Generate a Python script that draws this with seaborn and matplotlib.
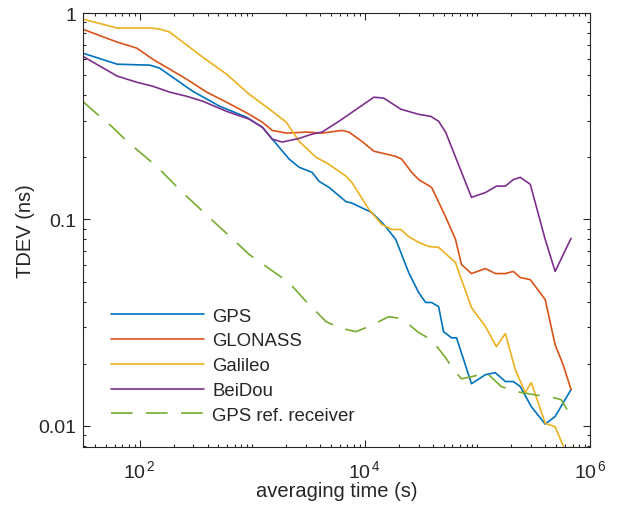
import matplotlib
matplotlib.use("Agg")
import matplotlib.pyplot as plt
import matplotlib.ticker as mticker
import seaborn as sns
import pandas as pd
import numpy as np

# averaging time (s) and TDEV (ns)
gps_t = [31, 63, 123, 150, 295, 510, 885, 1225, 1503, 2125, 2606, 3397, 3916, 4800,
         6785, 7670, 11530, 14730, 18800, 24500, 30060, 34660, 39160, 45170, 50000,
         58910, 65200, 88500, 117800, 144300, 176900, 208300, 240300, 300800,
         400000, 490000, 678500]
gps_v = [0.640, 0.565, 0.559, 0.541, 0.418, 0.354, 0.313, 0.280, 0.245, 0.196, 0.179,
         0.169, 0.153, 0.143, 0.122, 0.120, 0.108, 0.0946, 0.0800, 0.0553, 0.0442,
         0.0396, 0.0396, 0.0378, 0.0286, 0.0267, 0.0267, 0.0160, 0.0177, 0.0181,
         0.0164, 0.0164, 0.0155, 0.0124, 0.0102, 0.0111, 0.0150]

glo_t = [31, 63, 94, 130, 184, 261, 392, 589, 940, 1225, 1503, 2000, 3005, 4160, 6257,
         7213, 9400, 12020, 15660, 18800, 21240, 26060, 30060, 39160, 52120, 63880,
         72150, 88500, 117800, 144300, 176900, 208300, 240300, 294700, 400000,
         490000, 576700, 678500]
glo_v = [0.836, 0.723, 0.676, 0.598, 0.535, 0.478, 0.414, 0.370, 0.323, 0.296, 0.270,
         0.262, 0.265, 0.262, 0.270, 0.265, 0.239, 0.214, 0.207, 0.202, 0.196, 0.169,
         0.156, 0.143, 0.103, 0.0800, 0.0605, 0.0547, 0.0578, 0.0547, 0.0547, 0.0560,
         0.0523, 0.0511, 0.0409, 0.0247, 0.0198, 0.0150]

gal_t = [31, 63, 123, 150, 184, 362, 589, 940, 1503, 2000, 2606, 3683, 4800, 6785,
         7670, 10840, 14140, 17340, 20840, 24500, 30060, 36840, 45170, 63880, 72150,
         88500, 117800, 147300, 176900, 217000, 266000, 300800, 400000, 490000,
         600900, 678500]
gal_v = [0.935, 0.846, 0.846, 0.836, 0.809, 0.611, 0.506, 0.404, 0.334, 0.296, 0.239,
         0.200, 0.185, 0.162, 0.151, 0.112, 0.0946, 0.0894, 0.0894, 0.0826, 0.0774,
         0.0740, 0.0732, 0.0618, 0.0511, 0.0374, 0.0303, 0.0242, 0.0280, 0.0187,
         0.0145, 0.0162, 0.0103, 0.0099, 0.0076, 0.0079]

bds_t = [31, 63, 94, 130, 184, 261, 362, 589, 940, 1225, 1503, 1842, 2606, 3397, 4160,
         5888, 12020, 14730, 20840, 30060, 38380, 45170, 52120, 88500, 117800,
         147300, 176900, 208300, 240300, 294700, 400000, 490000, 678500]
bds_v = [0.618, 0.495, 0.462, 0.442, 0.414, 0.395, 0.374, 0.334, 0.306, 0.280, 0.245,
         0.237, 0.247, 0.259, 0.265, 0.299, 0.391, 0.387, 0.342, 0.323, 0.316, 0.299,
         0.265, 0.128, 0.135, 0.145, 0.145, 0.156, 0.160, 0.148, 0.0800, 0.0560,
         0.0810]

ref_t = [31, 44, 56, 77, 141, 240, 416, 721, 940, 1330, 2125, 3005, 4516, 5888, 8318,
         10840, 16310, 21240, 30060, 39160, 52120, 61370, 72150, 88500, 120200,
         163000, 230600, 333000, 451900, 553400, 625600]
ref_v = [0.374, 0.316, 0.283, 0.239, 0.181, 0.135, 0.102, 0.0774, 0.0676, 0.0591,
         0.0494, 0.0400, 0.0320, 0.0299, 0.0286, 0.0303, 0.0338, 0.0331, 0.0283,
         0.0261, 0.0214, 0.0187, 0.0169, 0.0173, 0.0181, 0.0155, 0.0146, 0.0141,
         0.0138, 0.0134, 0.0120]

series = [
    ("GPS", gps_t, gps_v, "#0072BD"),
    ("GLONASS", glo_t, glo_v, "#D95319"),
    ("Galileo", gal_t, gal_v, "#EDB120"),
    ("BeiDou", bds_t, bds_v, "#7E2F8E"),
    ("GPS ref. receiver", ref_t, ref_v, "#77AC30"),
]

sns.set_style("ticks")
plt.rcParams['font.family'] = ['Liberation Sans', 'DejaVu Sans']
plt.rcParams['mathtext.fontset'] = 'custom'
plt.rcParams['mathtext.rm'] = 'Liberation Sans'
plt.rcParams['mathtext.it'] = 'Liberation Sans:italic'

fig = plt.figure(figsize=(6.18, 5.06), dpi=100)
ax = fig.add_axes([0.1343, 0.1146, 0.8204, 0.8577])

for name, t, v, col in series:
    df = pd.DataFrame({"t": t, "v": v})
    ls = (0, (13, 8)) if name == "GPS ref. receiver" else "-"
    sns.lineplot(data=df, x="t", y="v", ax=ax, color=col, lw=1.2, linestyle=ls,
                 label=name, sort=False, estimator=None)

ax.set_xscale("log")
ax.set_yscale("log")
ax.set_xlim(31.3, 1e6)
ax.set_ylim(0.0079, 1)

dark = "#262626"
ax.xaxis.set_major_locator(mticker.FixedLocator([1e2, 1e4, 1e6]))
ax.xaxis.set_major_formatter(mticker.FuncFormatter(lambda x, p: r"$10^{\,%d}$" % round(np.log10(x))))
xminor = [k * 10.0 ** n for n in range(1, 6) for k in range(1, 10)]
xminor = [m for m in xminor if m not in (1e2, 1e4, 1e6)]
ax.xaxis.set_minor_locator(mticker.FixedLocator(xminor))
ax.xaxis.set_minor_formatter(mticker.NullFormatter())

ax.yaxis.set_major_locator(mticker.FixedLocator([0.01, 0.1, 1]))
ax.yaxis.set_major_formatter(mticker.FixedFormatter(["0.01", "0.1", "1"]))
ax.yaxis.set_minor_locator(mticker.LogLocator(base=10, subs=np.arange(2, 10)))
ax.yaxis.set_minor_formatter(mticker.NullFormatter())

ax.tick_params(which="both", direction="in", top=True, right=True, colors=dark,
               labelsize=14, width=0.8)
ax.tick_params(which="major", length=5)
ax.tick_params(which="minor", length=2.5)
ax.tick_params(axis="x", which="major", pad=9)
ax.tick_params(axis="y", which="major", pad=5)
for s in ax.spines.values():
    s.set_color(dark)
    s.set_linewidth(0.8)

ax.set_xlabel("averaging time (s)", fontsize=14.5, color=dark, labelpad=0)
ax.set_ylabel("TDEV (ns)", fontsize=14.5, color=dark, labelpad=2)

leg = ax.legend(loc="lower left", bbox_to_anchor=(0.04, 0.036), frameon=False,
                fontsize=13.4, handlelength=5.0, handletextpad=0.45, labelspacing=0.42,
                borderaxespad=0)
for txt in leg.get_texts():
    txt.set_color(dark)

fig.savefig("out.png", dpi=100)
